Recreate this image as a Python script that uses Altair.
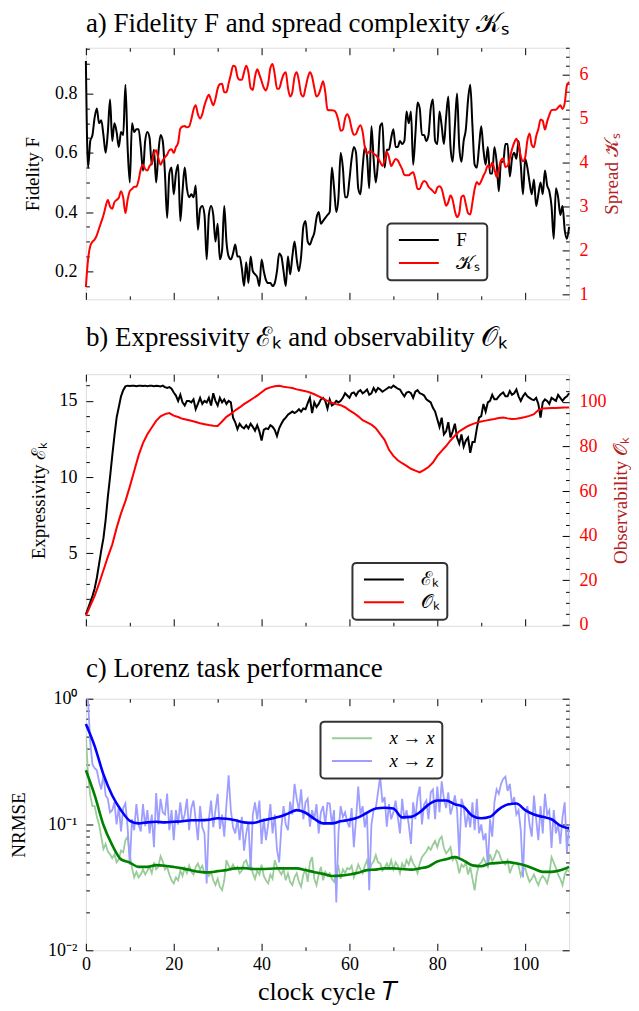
import altair as alt
import pandas as pd

# ---------------- data ----------------
# panel a: T = 0, 0.5, ..., 110
fidelity = [
    0.91, 0.55, 0.64, 0.66, 0.72, 0.75, 0.70, 0.71, 0.66, 0.60,
    0.67, 0.78, 0.64, 0.70, 0.67, 0.62, 0.67, 0.66, 0.83, 0.62,
    0.50, 0.70, 0.67, 0.68, 0.68, 0.62, 0.54, 0.64, 0.67, 0.65,
    0.56, 0.61, 0.50, 0.60, 0.66, 0.64, 0.53, 0.38, 0.53, 0.55,
    0.46, 0.53, 0.56, 0.37, 0.47, 0.55, 0.48, 0.45, 0.46, 0.45,
    0.49, 0.34, 0.41, 0.42, 0.39, 0.24, 0.39, 0.42, 0.39, 0.30,
    0.36, 0.24, 0.27, 0.42, 0.30, 0.25, 0.24, 0.26, 0.29, 0.25,
    0.25, 0.21, 0.15, 0.23, 0.16, 0.25, 0.20, 0.19, 0.18, 0.15,
    0.24, 0.20, 0.17, 0.16, 0.16, 0.15, 0.16, 0.20, 0.26, 0.25,
    0.20, 0.15, 0.25, 0.19, 0.25, 0.30, 0.24, 0.20, 0.25, 0.35,
    0.37, 0.30, 0.29, 0.31, 0.33, 0.38, 0.40, 0.36, 0.37, 0.38,
    0.39, 0.40, 0.55, 0.48, 0.40, 0.45, 0.60, 0.55, 0.45, 0.45,
    0.51, 0.58, 0.62, 0.60, 0.48, 0.46, 0.55, 0.62, 0.59, 0.48,
    0.69, 0.58, 0.50, 0.57, 0.69, 0.70, 0.55, 0.61, 0.61, 0.65,
    0.68, 0.62, 0.62, 0.64, 0.63, 0.64, 0.74, 0.70, 0.74, 0.56,
    0.66, 0.77, 0.75, 0.66, 0.66, 0.64, 0.66, 0.75, 0.78, 0.64,
    0.63, 0.74, 0.69, 0.63, 0.72, 0.79, 0.62, 0.57, 0.69, 0.80,
    0.62, 0.57, 0.64, 0.68, 0.78, 0.83, 0.69, 0.56, 0.55, 0.62,
    0.69, 0.61, 0.56, 0.62, 0.53, 0.53, 0.62, 0.57, 0.47, 0.57,
    0.57, 0.63, 0.63, 0.52, 0.58, 0.60, 0.58, 0.64, 0.56, 0.46,
    0.58, 0.55, 0.50, 0.46, 0.51, 0.42, 0.46, 0.50, 0.46, 0.54,
    0.49, 0.47, 0.42, 0.31, 0.48, 0.45, 0.39, 0.42, 0.34, 0.31,
    0.35,
]
spread = [
    1.17, 1.80, 2.10, 2.20, 2.25, 2.35, 2.50, 2.65, 2.80, 3.00,
    3.15, 3.00, 2.95, 3.10, 3.15, 3.20, 3.35, 3.20, 2.85, 3.15,
    3.35, 3.40, 3.45, 3.45, 3.60, 3.85, 3.95, 3.85, 3.82, 3.92,
    4.00, 4.20, 4.28, 4.10, 3.95, 4.05, 4.12, 4.18, 4.28, 4.30,
    4.22, 4.35, 4.45, 4.77, 4.82, 4.83, 4.80, 4.82, 4.98, 5.20,
    5.30, 5.10, 5.00, 5.10, 5.30, 5.45, 5.54, 5.42, 5.30, 5.45,
    5.68, 5.78, 5.79, 5.60, 5.60, 5.80, 6.00, 6.20, 6.18, 5.95,
    5.88, 5.88, 6.05, 6.20, 6.05, 5.70, 5.65, 5.95, 6.12, 6.00,
    5.85, 5.70, 5.64, 5.80, 6.15, 6.24, 6.00, 5.68, 5.68, 5.85,
    6.00, 6.05, 5.70, 5.50, 5.60, 5.95, 6.05, 5.85, 5.55, 5.50,
    5.70, 5.92, 6.05, 5.95, 5.70, 5.50, 5.55, 5.70, 5.85, 5.60,
    5.20, 5.19, 5.19, 5.18, 5.12, 4.95, 4.72, 4.75, 5.00, 5.10,
    5.00, 4.77, 4.63, 4.65, 4.78, 4.85, 4.70, 4.35, 4.20, 4.25,
    4.25, 4.20, 4.17, 4.10, 4.01, 3.92, 4.05, 4.24, 4.12, 3.92,
    4.00, 4.08, 4.05, 3.95, 3.85, 3.72, 3.71, 3.71, 3.75, 3.78,
    3.62, 3.40, 3.40, 3.52, 3.58, 3.55, 3.45, 3.40, 3.35, 3.30,
    3.43, 3.46, 3.40, 3.20, 3.02, 3.10, 3.25, 3.15, 2.90, 2.76,
    2.85, 3.22, 3.25, 3.05, 2.85, 2.82, 3.10, 3.40, 3.56, 3.50,
    3.58, 3.70, 3.80, 3.93, 3.88, 4.00, 3.85, 3.67, 3.85, 4.05,
    4.09, 3.90, 3.92, 4.10, 4.30, 4.45, 4.54, 4.40, 4.15, 4.03,
    4.12, 4.50, 4.66, 4.40, 4.35, 4.60, 4.76, 4.98, 4.95, 4.75,
    4.93, 5.08, 5.19, 5.20, 5.20, 5.25, 5.30, 5.22, 5.35, 5.75,
    5.83,
]
# panel b: expressivity at T = 0, 0.5, ..., 110 ; observability at T = 0, 1, ..., 110
expressivity = [
    1.0, 1.4, 1.8, 2.2, 2.7, 3.4, 4.3, 5.2, 6.0, 7.2,
    8.7, 10.0, 11.4, 12.7, 13.9, 14.6, 15.3, 15.7, 15.95, 16.0,
    15.98, 16.0, 16.0, 15.97, 16.0, 16.0, 15.98, 16.0, 15.96, 16.0,
    16.0, 15.97, 16.0, 15.98, 15.95, 16.0, 15.9, 15.85, 15.9, 15.8,
    15.55, 15.35, 15.0, 15.4, 14.9, 14.7, 15.0, 15.0, 14.9, 15.1,
    14.45, 14.8, 15.2, 14.8, 15.0, 14.9, 15.2, 14.7, 15.5, 15.0,
    14.7, 15.2, 14.9, 15.1, 14.8, 15.0, 14.9, 13.9, 13.6, 13.15,
    13.5, 13.3, 13.2, 13.4, 13.2, 13.5, 13.3, 13.05, 13.4, 13.0,
    12.4, 13.1, 13.2, 13.15, 13.4, 13.3, 13.1, 12.7, 13.2, 13.5,
    13.75, 13.9, 14.1, 14.2, 14.3, 14.2, 14.3, 14.45, 14.3, 14.5,
    14.45, 14.85, 15.2, 14.2, 14.9, 14.6, 14.8, 15.1, 15.2, 15.0,
    14.5, 15.1, 14.7, 14.8, 15.0, 14.9, 15.0, 15.2, 15.5, 15.35,
    15.2, 15.5, 15.55, 15.35, 15.6, 15.7, 15.5, 15.6, 15.75, 15.4,
    15.5, 15.85, 15.6, 15.85, 15.75, 15.6, 15.7, 15.8, 15.9, 15.85,
    16.0, 15.9, 15.8, 15.75, 15.5, 15.3, 15.55, 15.6, 15.5, 15.2,
    15.6, 15.7, 15.5, 15.45, 15.35, 15.1, 15.0, 14.9, 14.55, 14.3,
    13.8, 13.3, 13.9, 12.8, 13.0, 13.6, 12.6, 13.0, 13.5, 12.6,
    12.2, 12.8, 12.0, 12.4, 12.6, 11.6, 12.3, 12.3, 13.2, 13.9,
    14.0, 14.8, 14.3, 14.9, 15.0, 15.4, 15.1, 15.1, 15.3, 15.45,
    15.55, 15.3, 15.3, 15.65, 15.4, 15.5, 15.75, 15.3, 15.0, 15.3,
    15.5, 15.3, 15.2, 15.1, 15.05, 15.2, 14.8, 13.9, 14.9, 15.1,
    15.0, 14.8, 15.2, 15.1, 15.0, 15.4, 15.2, 15.0, 15.2, 15.3,
    15.5,
]
observability = [
    4.2, 8.5, 13.0, 18.5, 24.5, 30.5, 36.0, 43.5, 50.0, 55.5,
    62.0, 69.0, 76.0, 81.5, 85.5, 88.5, 91.5, 93.5, 94.5, 95.0,
    93.8, 93.2, 92.4, 92.0, 91.5, 91.0, 90.4, 90.0, 89.6, 89.3,
    89.2, 91.2, 93.3, 94.6, 96.2, 97.5, 99.0, 100.2, 101.5, 102.8,
    104.3, 105.8, 106.5, 107.0, 107.2, 106.8, 106.5, 106.2, 105.6, 105.2,
    104.8, 104.2, 103.4, 102.5, 101.6, 100.4, 99.6, 99.0, 98.5, 97.6,
    96.2, 95.0, 93.5, 91.8, 90.8, 89.8, 88.2, 85.5, 83.0, 78.5,
    75.8, 73.8, 72.5, 71.3, 70.0, 69.2, 68.4, 69.5, 70.8, 72.8,
    75.8, 78.0, 80.2, 82.7, 84.8, 86.8, 88.0, 89.2, 90.0, 90.7,
    91.2, 91.6, 92.0, 92.3, 92.8, 93.0, 92.6, 92.3, 92.4, 92.8,
    93.2, 93.7, 94.5, 96.3, 97.0, 97.1, 97.2, 97.3, 97.4, 97.5,
    97.5,
]
# panel c: raw NRMSE at T = 0, 0.5, ..., 110 ; smoothed at T = 0, 2, ..., 110
nrmse_xx = [
    0.5, 0.25, 0.17, 0.14, 0.14, 0.115, 0.1, 0.08, 0.064, 0.07,
    0.061, 0.058, 0.054, 0.058, 0.05, 0.053, 0.062, 0.06, 0.075, 0.08,
    0.058, 0.045, 0.038, 0.042, 0.038, 0.04, 0.044, 0.04, 0.043, 0.046,
    0.041, 0.05, 0.044, 0.046, 0.056, 0.051, 0.044, 0.046, 0.04, 0.036,
    0.034, 0.038, 0.036, 0.043, 0.039, 0.045, 0.041, 0.047, 0.042, 0.04,
    0.046, 0.049, 0.044, 0.047, 0.041, 0.042, 0.039, 0.042, 0.036, 0.033,
    0.037, 0.032, 0.03, 0.036, 0.052, 0.047, 0.044, 0.048, 0.044, 0.046,
    0.041, 0.043, 0.05, 0.052, 0.045, 0.049, 0.041, 0.037, 0.043, 0.04,
    0.048, 0.039, 0.036, 0.034, 0.04, 0.037, 0.052, 0.046, 0.043, 0.04,
    0.044, 0.036, 0.041, 0.035, 0.033, 0.038, 0.041, 0.035, 0.032, 0.04,
    0.044, 0.035, 0.05, 0.055, 0.037, 0.033, 0.04, 0.046, 0.036, 0.042,
    0.039, 0.041, 0.037, 0.035, 0.042, 0.046, 0.037, 0.044, 0.041, 0.045,
    0.044, 0.047, 0.038, 0.042, 0.048, 0.044, 0.041, 0.047, 0.052, 0.042,
    0.048, 0.051, 0.057, 0.05, 0.049, 0.043, 0.045, 0.049, 0.045, 0.052,
    0.044, 0.05, 0.047, 0.041, 0.049, 0.045, 0.052, 0.048, 0.055, 0.049,
    0.046, 0.041, 0.049, 0.055, 0.058, 0.061, 0.066, 0.063, 0.069, 0.074,
    0.066, 0.076, 0.08, 0.065, 0.059, 0.062, 0.066, 0.052, 0.055, 0.05,
    0.041, 0.048, 0.046, 0.05, 0.04, 0.046, 0.037, 0.03, 0.041, 0.048,
    0.05, 0.054, 0.05, 0.046, 0.058, 0.051, 0.055, 0.062, 0.06, 0.053,
    0.05, 0.048, 0.052, 0.041, 0.046, 0.049, 0.05, 0.047, 0.039, 0.044,
    0.045, 0.039, 0.035, 0.037, 0.04, 0.036, 0.033, 0.037, 0.039, 0.037,
    0.034, 0.04, 0.055, 0.05, 0.045, 0.04, 0.037, 0.033, 0.04, 0.044,
    0.042,
]
nrmse_xz = [
    1.1, 0.95, 0.45, 0.3, 0.28, 0.27, 0.22, 0.19, 0.25, 0.17,
    0.16, 0.125, 0.13, 0.15, 0.1, 0.14, 0.088, 0.135, 0.147, 0.095,
    0.048, 0.11, 0.09, 0.145, 0.1, 0.088, 0.145, 0.097, 0.13, 0.085,
    0.12, 0.066, 0.178, 0.1, 0.16, 0.125, 0.12, 0.176, 0.09, 0.13,
    0.075, 0.13, 0.1, 0.15, 0.105, 0.12, 0.16, 0.09, 0.135, 0.155,
    0.11, 0.075, 0.14, 0.095, 0.085, 0.034, 0.11, 0.155, 0.095, 0.13,
    0.175, 0.092, 0.12, 0.08, 0.145, 0.246, 0.13, 0.095, 0.085, 0.11,
    0.075, 0.115, 0.062, 0.085, 0.105, 0.043, 0.12, 0.15, 0.11, 0.155,
    0.07, 0.112, 0.075, 0.1, 0.145, 0.085, 0.12, 0.063, 0.05, 0.095,
    0.14, 0.1, 0.09, 0.152, 0.12, 0.21, 0.16, 0.13, 0.19, 0.11,
    0.15, 0.16, 0.096, 0.13, 0.11, 0.145, 0.085, 0.125, 0.14, 0.1,
    0.148, 0.147, 0.1, 0.13, 0.024, 0.085, 0.14, 0.115, 0.125, 0.105,
    0.095, 0.135, 0.066, 0.11, 0.2, 0.12, 0.14, 0.095, 0.12, 0.03,
    0.1, 0.13, 0.135, 0.18, 0.24, 0.15, 0.165, 0.096, 0.145, 0.11,
    0.125, 0.155, 0.115, 0.085, 0.16, 0.11, 0.13, 0.1, 0.07, 0.15,
    0.11, 0.165, 0.2, 0.1, 0.145, 0.155, 0.11, 0.18, 0.19, 0.11,
    0.2, 0.125, 0.22, 0.16, 0.135, 0.18, 0.12, 0.14, 0.17, 0.13,
    0.055, 0.16, 0.14, 0.095, 0.125, 0.095, 0.15, 0.09, 0.16, 0.085,
    0.1, 0.075, 0.085, 0.046, 0.11, 0.08, 0.15, 0.19, 0.175, 0.21,
    0.23, 0.24, 0.185, 0.21, 0.145, 0.165, 0.12, 0.13, 0.09, 0.038,
    0.12, 0.14, 0.1, 0.08, 0.17, 0.11, 0.075, 0.14, 0.085, 0.175,
    0.12, 0.13, 0.065, 0.13, 0.085, 0.1, 0.07, 0.115, 0.15, 0.06,
    0.1,
]
smooth_xx = [
    0.27, 0.171, 0.099, 0.0686, 0.0528, 0.0498, 0.046, 0.046, 0.0475, 0.047,
    0.046, 0.0448, 0.0432, 0.042, 0.0416, 0.0426, 0.0434, 0.0448, 0.045, 0.0443,
    0.0443, 0.0445, 0.0448, 0.0448, 0.0448, 0.0434, 0.0418, 0.0405, 0.039, 0.0392,
    0.04, 0.0413, 0.0434, 0.0438, 0.0448, 0.0448, 0.0443, 0.0438, 0.0448, 0.0464,
    0.0508, 0.053, 0.055, 0.0516, 0.0473, 0.0466, 0.049, 0.0495, 0.0502, 0.049,
    0.0473, 0.0445, 0.042, 0.042, 0.0432, 0.046,
]
smooth_xz = [
    0.63, 0.42, 0.25, 0.17, 0.13, 0.107, 0.102, 0.104, 0.105, 0.104,
    0.105, 0.106, 0.108, 0.108, 0.109, 0.112, 0.111, 0.108, 0.104, 0.103,
    0.107, 0.111, 0.115, 0.122, 0.13, 0.124, 0.111, 0.102, 0.102, 0.106,
    0.109, 0.114, 0.124, 0.134, 0.136, 0.134, 0.114, 0.115, 0.125, 0.144,
    0.155, 0.155, 0.145, 0.138, 0.117, 0.112, 0.115, 0.132, 0.144, 0.147,
    0.13, 0.12, 0.115, 0.11, 0.098, 0.093,
]

# labels
K_LAB = "𝒦ₛ"
E_LAB = "ℰₖ"
O_LAB = "𝒪ₖ"
XX_LAB = "x → x"
XZ_LAB = "x → z"

# axis tick positions
X_MAJOR = [0, 20, 40, 60, 80, 100]
X_MINOR = [10, 30, 50, 70, 90]
F_MAJOR = [0.2, 0.4, 0.6, 0.8]
F_MINOR = [0.15, 0.25, 0.3, 0.35, 0.45, 0.5, 0.55, 0.65, 0.7, 0.75, 0.85, 0.9, 0.95]
K_MAJOR = [1, 2, 3, 4, 5, 6]
K_MINOR = [1.2, 1.4, 1.6, 1.8, 2.2, 2.4, 2.6, 2.8, 3.2, 3.4, 3.6, 3.8,
           4.2, 4.4, 4.6, 4.8, 5.2, 5.4, 5.6, 5.8, 6.2, 6.4, 6.6]
E_MAJOR = [5, 10, 15]
E_MINOR = [1, 2, 3, 4, 6, 7, 8, 9, 11, 12, 13, 14, 16]
O_MAJOR = [0, 20, 40, 60, 80, 100]
O_MINOR = [5, 10, 15, 25, 30, 35, 45, 50, 55, 65, 70, 75, 85, 90, 95, 105, 110]
N_MAJOR = [0.01, 0.1, 1]
N_MINOR = [0.02, 0.03, 0.04, 0.05, 0.06, 0.07, 0.08, 0.09,
           0.2, 0.3, 0.4, 0.5, 0.6, 0.7, 0.8, 0.9]

FONT = "Liberation Serif"
W, H = 484, 252
DARKRED = "#b22222"
LINE_SYMBOL = "M-1,0H7"


def frame(vals, step, name):
    return pd.DataFrame({"t": [i * step for i in range(len(vals))], "v": vals, "s": name})


XS = alt.Scale(domain=[0, 110], nice=False, zero=False)


def xax(orient, values, major, labels=False, title=None):
    size = 7 if major else 3.5
    kw = dict(orient=orient, values=values, tickSize=size, offset=-size, domain=False,
              grid=False, labels=labels, tickColor="black", tickWidth=1)
    if labels:
        kw.update(labelFont=FONT, labelFontSize=18, labelColor="black", labelPadding=5,
                  labelFlush=False)
    if title:
        kw.update(title=title, titleFont=FONT, titleFontSize=26, titleFontWeight="normal",
                  titleColor="black", titleY=56, titleBaseline="alphabetic")
    return alt.Axis(**kw)


def yax(orient, values, major, labels=False, title=None, label_color="black",
        title_color="black", title_x=0, label_expr=None, fmt=None):
    size = 7 if major else 3.5
    kw = dict(orient=orient, values=values, tickSize=size, offset=-size, domain=False,
              grid=False, labels=labels, tickColor="black", tickWidth=1)
    if labels:
        kw.update(labelFont=FONT, labelFontSize=18, labelColor=label_color,
                  labelPadding=9 if orient == "left" else 10, labelFlush=False)
        if label_expr:
            kw.update(labelExpr=label_expr)
        if fmt:
            kw.update(format=fmt)
    if title:
        kw.update(title=title, titleFont=FONT, titleFontSize=19, titleFontWeight="normal",
                  titleColor=title_color, titleX=title_x, titleBaseline="middle",
                  titleAlign="center", titleAngle=270)
    return alt.Axis(**kw)


def legend(x, y, italic=False):
    kw = dict(orient="none", legendX=x, legendY=y, title=None, labelFont=FONT,
              labelFontSize=19, labelColor="black", symbolType=LINE_SYMBOL, symbolSize=100,
              symbolStrokeWidth=2, strokeColor="#333333", cornerRadius=4, padding=7,
              fillColor="white", labelOffset=43, rowPadding=3)
    if italic:
        kw.update(labelFontStyle="italic")
    return alt.Legend(**kw)


def title(text, off):
    return alt.TitleParams(text=text, anchor="start", frame="group", font=FONT, fontSize=27,
                           fontWeight="normal", color="black", baseline="alphabetic",
                           offset=off)


def helper(df, yscale, xaxis, yaxis):
    return alt.Chart(df).mark_line(opacity=0).encode(
        x=alt.X("t:Q", scale=XS, axis=xaxis, title=None),
        y=alt.Y("v:Q", scale=yscale, axis=yaxis, title=None),
    )


# ---------------- panel a ----------------
dfF = frame(fidelity, 0.5, "F")
dfK = frame(spread, 0.5, K_LAB)
yF = alt.Scale(domain=[0.105, 0.955], nice=False, zero=False)
yK = alt.Scale(domain=[0.89, 6.61], nice=False, zero=False)
colA = alt.Color("s:N", scale=alt.Scale(domain=["F", K_LAB], range=["black", "red"]),
                 legend=legend(302, 176))

lineF = alt.Chart(dfF).mark_line(strokeWidth=2, interpolate="monotone").encode(
    x=alt.X("t:Q", scale=XS, axis=xax("bottom", X_MAJOR, True), title=None),
    y=alt.Y("v:Q", scale=yF, axis=yax("left", F_MAJOR, True, True, "Fidelity F", title_x=-60, fmt=".1f"),
            title="Fidelity F"),
    color=colA,
)
innerF = alt.layer(
    lineF,
    helper(dfF, yF, xax("bottom", X_MINOR, False), yax("left", F_MINOR, False)),
    helper(dfF, yF, xax("top", X_MAJOR, True), None),
    helper(dfF, yF, xax("top", X_MINOR, False), None),
).resolve_axis(x="independent", y="independent")

lineK = alt.Chart(dfK).mark_line(strokeWidth=2, interpolate="monotone").encode(
    x=alt.X("t:Q", scale=XS, axis=None),
    y=alt.Y("v:Q", scale=yK, axis=yax("right", K_MAJOR, True, True, "Spread " + K_LAB,
                                      label_color="red", title_color=DARKRED, title_x=49, fmt="d"),
            title="Spread " + K_LAB),
    color=colA,
)
innerK = alt.layer(
    lineK,
    helper(dfK, yK, None, yax("right", K_MINOR, False)),
).resolve_axis(y="independent")

panelA = alt.layer(innerF, innerK).resolve_scale(y="independent").resolve_axis(
    x="independent", y="independent").properties(
    width=W, height=H, title=title("a) Fidelity F and spread complexity " + K_LAB, -12))

# ---------------- panel b ----------------
dfE = frame(expressivity, 0.5, E_LAB)
dfO = frame(observability, 1.0, O_LAB)
yE = alt.Scale(domain=[0.25, 16.75], nice=False, zero=False)
yO = alt.Scale(domain=[-0.4, 112.4], nice=False, zero=False)
colB = alt.Color("s:N", scale=alt.Scale(domain=[E_LAB, O_LAB], range=["black", "red"]),
                 legend=legend(267, 189))

lineE = alt.Chart(dfE).mark_line(strokeWidth=2).encode(
    x=alt.X("t:Q", scale=XS, axis=xax("bottom", X_MAJOR, True), title=None),
    y=alt.Y("v:Q", scale=yE, axis=yax("left", E_MAJOR, True, True, "Expressivity " + E_LAB, title_x=-54),
            title="Expressivity " + E_LAB),
    color=colB,
)
innerE = alt.layer(
    lineE,
    helper(dfE, yE, xax("bottom", X_MINOR, False), yax("left", E_MINOR, False)),
    helper(dfE, yE, xax("top", X_MAJOR, True), None),
    helper(dfE, yE, xax("top", X_MINOR, False), None),
).resolve_axis(x="independent", y="independent")

lineO = alt.Chart(dfO).mark_line(strokeWidth=2).encode(
    x=alt.X("t:Q", scale=XS, axis=None),
    y=alt.Y("v:Q", scale=yO, axis=yax("right", O_MAJOR, True, True, "Observability " + O_LAB,
                                      label_color="red", title_color=DARKRED, title_x=58),
            title="Observability " + O_LAB),
    color=colB,
)
innerO = alt.layer(
    lineO,
    helper(dfO, yO, None, yax("right", O_MINOR, False)),
).resolve_axis(y="independent")

panelB = alt.layer(innerE, innerO).resolve_scale(y="independent").resolve_axis(
    x="independent", y="independent").properties(
    width=W, height=H, title=title("b) Expressivity " + E_LAB + " and observability " + O_LAB, 1))

# ---------------- panel c ----------------
dfXX = frame(nrmse_xx, 0.5, XX_LAB)
dfXZ = frame(nrmse_xz, 0.5, XZ_LAB)
dfSX = frame(smooth_xx, 2.0, "sxx")
dfSZ = frame(smooth_xz, 2.0, "sxz")
yN = alt.Scale(type="log", domain=[0.01, 1], nice=False)
colC = alt.Color("s:N", scale=alt.Scale(domain=[XX_LAB, XZ_LAB], range=["#99cc99", "#9e9eff"]),
                 legend=legend(235, 23, italic=True))
LOG_LABELS = "datum.value >= 0.99 ? '10⁰' : (datum.value >= 0.099 ? '10⁻¹' : '10⁻²')"

rawXX = alt.Chart(dfXX).mark_line(strokeWidth=1.8, clip=True).encode(
    x=alt.X("t:Q", scale=XS, axis=xax("bottom", X_MAJOR, True, True, "clock cycle 𝑇"),
            title="clock cycle 𝑇"),
    y=alt.Y("v:Q", scale=yN, axis=yax("left", N_MAJOR, True, True, "NRMSE", title_x=-74,
                                      label_expr=LOG_LABELS), title="NRMSE"),
    color=colC,
)
rawXZ = alt.Chart(dfXZ).mark_line(strokeWidth=1.8, clip=True).encode(
    x=alt.X("t:Q", scale=XS, axis=xax("bottom", X_MINOR, False), title=None),
    y=alt.Y("v:Q", scale=yN, axis=yax("left", N_MINOR, False), title=None),
    color=colC,
)
smXX = alt.Chart(dfSX).mark_line(strokeWidth=2.6, color="#008000", interpolate="monotone").encode(
    x=alt.X("t:Q", scale=XS, axis=xax("top", X_MAJOR, True), title=None),
    y=alt.Y("v:Q", scale=yN, axis=yax("right", N_MAJOR, True), title=None),
)
smXZ = alt.Chart(dfSZ).mark_line(strokeWidth=2.6, color="#0000ff", interpolate="monotone").encode(
    x=alt.X("t:Q", scale=XS, axis=xax("top", X_MINOR, False), title=None),
    y=alt.Y("v:Q", scale=yN, axis=yax("right", N_MINOR, False), title=None),
)
panelC = alt.layer(rawXX, rawXZ, smXX, smXZ).resolve_axis(
    x="independent", y="independent").properties(
    width=W, height=H, title=title("c) Lorenz task performance", -14))

chart = alt.vconcat(panelA, panelB, panelC, spacing=19).resolve_scale(
    color="independent").configure_view(stroke="black", strokeWidth=1.5).configure(
    padding={"left": 1, "top": 1, "right": 0, "bottom": 0}).configure_legend(strokeWidth=2)

chart.save("out.html", embed_options={"renderer": "svg", "actions": False})
